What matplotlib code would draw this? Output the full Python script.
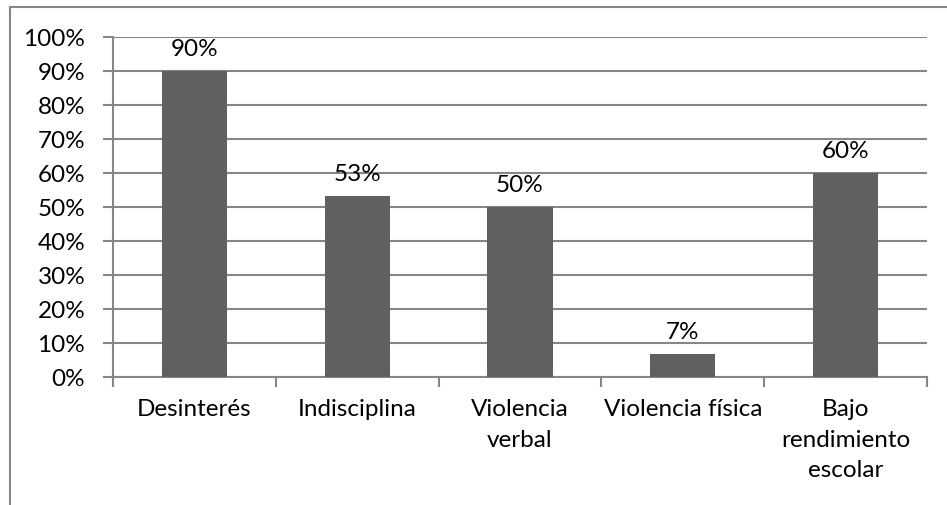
import matplotlib
matplotlib.use('Agg')
import matplotlib.pyplot as plt
from matplotlib.patches import Rectangle
import numpy as np

plt.rcParams['font.family'] = ['Lato', 'DejaVu Sans']

# data
categorias = ['Desinterés', 'Indisciplina', 'Violencia\nverbal', 'Violencia física',
              'Bajo\nrendimiento\nescolar']
valores = [0.90, 0.533, 0.50, 0.067, 0.60]
etiquetas = ['90%', '53%', '50%', '7%', '60%']
yticks = np.arange(0, 1.01, 0.1)

gris = '#868686'
fs = 17.5

fig = plt.figure(figsize=(9.47, 5.05), dpi=100)
ax = fig.add_axes([113/947, 1-377/505, (927-113)/947, (377-37)/505])

x = np.arange(len(categorias))
ax.bar(x, valores, width=0.4, color='#606060', zorder=3)

for xi, v, lab in zip(x, valores, etiquetas):
    ax.annotate(lab, (xi, v), xytext=(0, 8), textcoords='offset points',
                ha='center', va='bottom', fontsize=fs)

ax.set_xlim(-0.5, len(categorias) - 0.5)
ax.set_ylim(0, 1)
ax.set_yticks(yticks)
ax.set_yticklabels(['%d%%' % round(t*100) for t in yticks], fontsize=fs)
ax.yaxis.grid(True, color=gris, linewidth=1.5, zorder=0)

# category ticks at borders, labels at centres
ax.set_xticks(np.arange(-0.5, len(categorias), 1.0))
ax.set_xticklabels([])
ax.set_xticks(x, minor=True)
ax.set_xticklabels(categorias, minor=True, fontsize=fs, linespacing=1.55, va='top')
ax.tick_params(axis='x', which='minor', length=0, pad=16)
ax.tick_params(axis='x', which='major', length=7, width=1.5, color=gris)
ax.tick_params(axis='y', length=7, width=1.5, color=gris, pad=13)

for s in ['top', 'right']:
    ax.spines[s].set_visible(False)
for s in ['left', 'bottom']:
    ax.spines[s].set_color(gris)
    ax.spines[s].set_linewidth(1.5)

# chart border (Excel frame)
fig.patches.append(Rectangle((10/947, -0.2), 1.2, 1.2 - 7/505,
                             transform=fig.transFigure, fill=False,
                             edgecolor=gris, linewidth=1.5))

fig.savefig('out.png', dpi=100)
